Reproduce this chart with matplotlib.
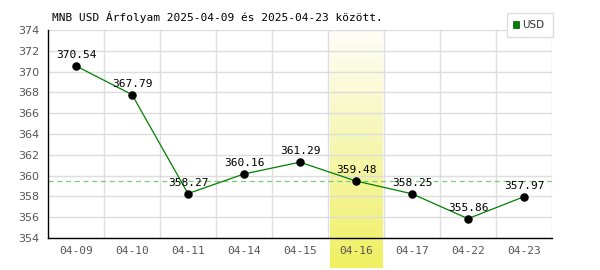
import matplotlib
matplotlib.use("Agg")
import matplotlib.pyplot as plt
import numpy as np
from matplotlib.colors import LinearSegmentedColormap

dates = ["04-09", "04-10", "04-11", "04-14", "04-15", "04-16", "04-17", "04-22", "04-23"]
values = [370.54, 367.79, 358.27, 360.16, 361.29, 359.48, 358.25, 355.86, 357.97]
highlight_idx = 5
ref_value = 359.48
yticks = list(range(354, 375, 2))
title = "MNB USD Árfolyam 2025-04-09 és 2025-04-23 között."
series_name = "USD"

mono = "DejaVu Sans Mono"
fig = plt.figure(figsize=(6, 2.7), dpi=100)
ax = fig.add_axes([48/600, 1-238/270, 504/600, 208/270])
n = len(dates)
x = np.arange(n) + 0.5
ax.set_xlim(0, n)
ax.set_ylim(354, 374)

# highlight band with gradient
cmap = LinearSegmentedColormap.from_list("hl", ["#fefef8", "#f6f6b0", "#f0f060"])
grad = np.linspace(0, 1, 256).reshape(-1, 1)
ybot = 354 - 30 * 20 / 208
ax.imshow(grad, cmap=cmap, aspect="auto", origin="upper",
          extent=[highlight_idx + 0.04, highlight_idx + 0.98, ybot, 374],
          clip_on=False, zorder=0)
ax.set_xlim(0, n)
ax.set_ylim(354, 374)

# grid
for yv in yticks:
    ax.axhline(yv, color="#dddddd", lw=1, zorder=1)
for i in range(1, n + 1):
    ax.axvline(i, color="#dddddd", lw=1, zorder=1)

ax.axhline(ref_value, color="#77cc77", lw=0.9, ls=(0, (4, 3)), zorder=2)
ax.plot(x, values, color="#008000", lw=0.9, zorder=3)
ax.scatter(x, values, color="black", s=26, zorder=4)
for xi, v in zip(x, values):
    ax.text(xi, v + 0.55, f"{v:.2f}", ha="center", va="bottom", fontsize=8,
            family=mono, color="black", zorder=5)

for s in ["top", "right"]:
    ax.spines[s].set_visible(False)
ax.spines["left"].set_color("black")
ax.spines["bottom"].set_color("black")
ax.spines["left"].set_linewidth(1)
ax.spines["bottom"].set_linewidth(1)
ax.spines["left"].set_zorder(6)
ax.spines["bottom"].set_zorder(6)

ax.set_xticks(x)
ax.set_xticklabels(dates, family=mono, fontsize=8, color="#555555")
ax.set_yticks(yticks)
ax.set_yticklabels([str(t) for t in yticks], family="DejaVu Sans", fontsize=8, color="#555555")
ax.tick_params(length=0, pad=6)

fig.text(52/600, 1-17/270, title, family=mono, fontsize=8, va="center", ha="left", color="black")

# legend box
lx0, ly0, lw_, lh = 507/600, 1-37/270, 46/600, 24/270
fig.patches.append(plt.Rectangle((lx0, ly0), lw_, lh, transform=fig.transFigure,
                                 facecolor="white", edgecolor="#dddddd", lw=1))
fig.patches.append(plt.Rectangle((513/600, 1-28/270), 6/600, 7/270, transform=fig.transFigure,
                                 facecolor="#008000", edgecolor="#005000", lw=0.5))
fig.text(522/600, 1-24.5/270, series_name, family="DejaVu Sans", fontsize=7.5, va="center", ha="left", color="#333333")

fig.savefig("out.png", dpi=100)
